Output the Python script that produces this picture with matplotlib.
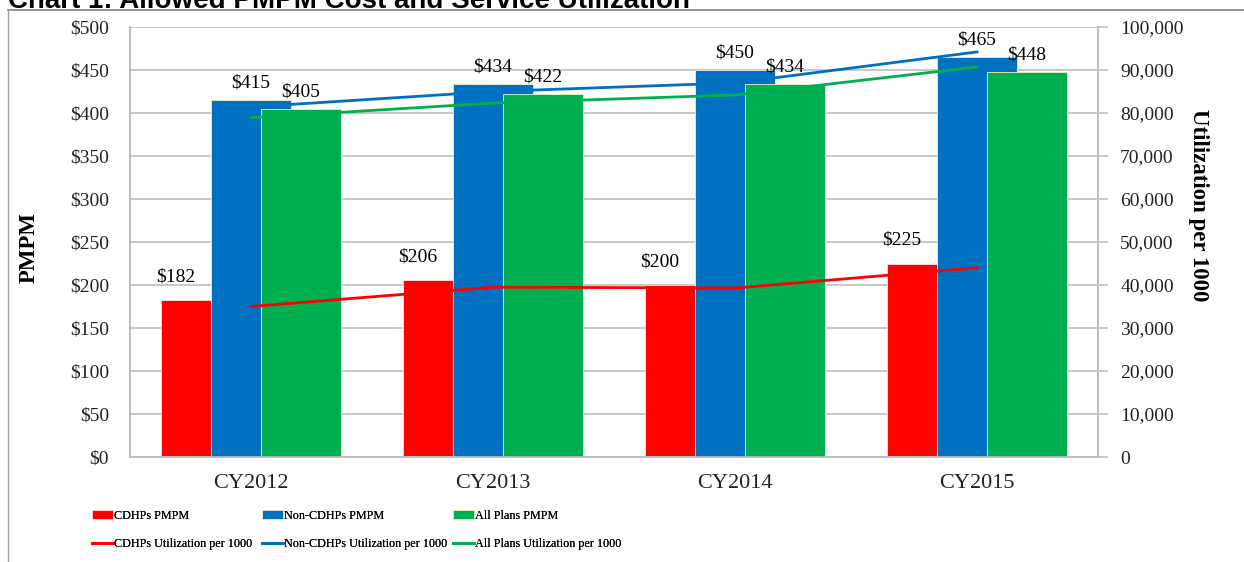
import numpy as np
import matplotlib
matplotlib.use("Agg")
import matplotlib.pyplot as plt
from matplotlib.lines import Line2D

plt.rcParams['font.family'] = ['Liberation Serif', 'DejaVu Serif']

years = ['CY2012', 'CY2013', 'CY2014', 'CY2015']
cdhp_pmpm = [182, 206, 200, 225]
non_cdhp_pmpm = [415, 434, 450, 465]
all_pmpm = [405, 422, 434, 448]
cdhp_util = [35000, 39500, 39300, 44000]
non_cdhp_util = [81400, 85000, 87000, 94200]
all_util = [78900, 82300, 84200, 90700]

red = '#FF0000'
blue = '#0070C0'
green = '#00B050'
grey = '#BFBFBF'

fig = plt.figure(figsize=(12.44, 5.62), dpi=100)
W, H = 1244, 562
ax = fig.add_axes([130 / W, 1 - 457 / H, (1098 - 130) / W, (457 - 27) / H])
ax2 = ax.twinx()

x = np.arange(len(years))
w = 0.33
off = 0.205
b1 = ax.bar(x - off, cdhp_pmpm, w, color=red, edgecolor='#FFE0E0', linewidth=0.6, zorder=2)
b2 = ax.bar(x, non_cdhp_pmpm, w, color=blue, edgecolor='#F0F0D0', linewidth=0.6, zorder=3)
b3 = ax.bar(x + off, all_pmpm, w, color=green, edgecolor='#F0F0C0', linewidth=0.6, zorder=4)

# data labels
for i in range(len(years)):
    ax.annotate('$%d' % cdhp_pmpm[i], (x[i] - 0.31, cdhp_pmpm[i]), xytext=(0, 23),
                textcoords='offset pixels', ha='center', va='center', fontsize=14, zorder=6)
    ax.annotate('$%d' % non_cdhp_pmpm[i], (x[i], non_cdhp_pmpm[i]), xytext=(0, 17),
                textcoords='offset pixels', ha='center', va='center', fontsize=14, zorder=6)
    ax.annotate('$%d' % all_pmpm[i], (x[i] + off, all_pmpm[i]), xytext=(0, 17),
                textcoords='offset pixels', ha='center', va='center', fontsize=14, zorder=6)

l1, = ax2.plot(x, cdhp_util, color=red, lw=2.0)
l2, = ax2.plot(x, non_cdhp_util, color=blue, lw=2.0)
l3, = ax2.plot(x, all_util, color=green, lw=2.0)

ax.set_xlim(-0.5, 3.5)
ax.set_ylim(0, 500)
ax2.set_ylim(0, 100000)
ax.set_yticks(np.arange(0, 501, 50))
ax.set_yticklabels(['$%d' % v for v in range(0, 501, 50)])
ax2.set_yticks(np.arange(0, 100001, 10000))
ax2.set_yticklabels(['{:,}'.format(v) for v in range(0, 100001, 10000)])
ax.set_xticks(x)
ax.set_xticklabels(years)

ax.grid(axis='y', color='#C4C4C4', linewidth=1.3, zorder=0)
ax.set_axisbelow(True)
ax.tick_params(axis='y', length=0, pad=15, labelsize=14, labelcolor='#222222')
ax.tick_params(axis='x', length=0, pad=12, labelsize=16, labelcolor='#222222')
ax2.tick_params(axis='y', length=7, width=1.2, color=grey, pad=9, labelsize=14,
                labelcolor='#222222')
for a in (ax, ax2):
    a.spines['top'].set_visible(False)
    for s in ('left', 'right', 'bottom'):
        a.spines[s].set_color(grey)
        a.spines[s].set_linewidth(1.2)

ax.set_ylabel('PMPM', fontsize=16.5, fontweight='bold')
ax.yaxis.set_label_coords(-0.093, 0.488)
ax2.set_ylabel('Utilization per 1000', fontsize=16.5, fontweight='bold', rotation=-90,
               va='center', ha='center')
ax2.yaxis.set_label_coords(1.104, 0.586)

# legend: one small legend per column so the columns sit where the reference has them
cols = [([b1, l1], ['CDHPs PMPM', 'CDHPs Utilization per 1000'], 92),
        ([b2, l2], ['Non-CDHPs PMPM', 'Non-CDHPs Utilization per 1000'], 262),
        ([b3, l3], ['All Plans PMPM', 'All Plans Utilization per 1000'], 453)]
for hs, ls, px in cols:
    leg = fig.legend(hs, ls, loc='upper left', bbox_to_anchor=(px / W, 1 - 510 / H),
                     frameon=False, fontsize=8.7, handlelength=1.7, handleheight=0.8,
                     handletextpad=0.1, labelspacing=1.35, borderpad=0, borderaxespad=0)
    fig.add_artist(leg)

# outer frame and clipped title
fig.add_artist(Line2D([8 / W, 1], [1 - 10 / H, 1 - 10 / H], color='#808080', lw=1.2))
fig.add_artist(Line2D([8 / W, 8 / W], [0, 1 - 10 / H], color='#A0A0A0', lw=1.0))
fig.text(8 / W, 1 - 8 / H, 'Chart 1: Allowed PMPM Cost and Service Utilization',
         family='Liberation Sans', fontweight='bold', fontsize=20, va='baseline', ha='left')

fig.savefig('out.png', dpi=100)
